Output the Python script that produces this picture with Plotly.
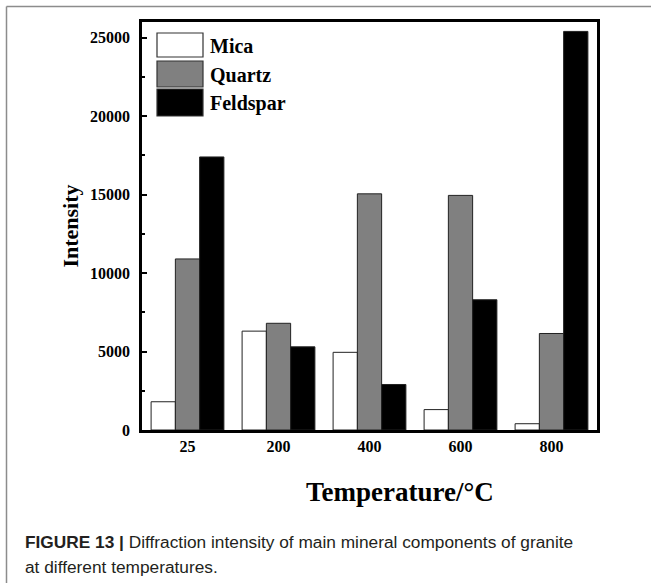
import plotly.graph_objects as go

# Diffraction intensity of granite minerals at different temperatures
temperatures = ["25", "200", "400", "600", "800"]
mica = [1800, 6300, 4950, 1300, 400]
quartz = [10900, 6800, 15050, 14950, 6150]
feldspar = [17400, 5300, 2900, 8300, 25400]

series_names = ["Mica", "Quartz", "Feldspar"]
series_values = [mica, quartz, feldspar]
series_colors = ["#ffffff", "#808080", "#000000"]

SERIF = "Liberation Serif, Times New Roman, serif"
SANS = "Liberation Sans, Arial, sans-serif"

fig = go.Figure()
for name, vals, col in zip(series_names, series_values, series_colors):
    fig.add_trace(go.Bar(
        x=temperatures, y=vals, name=name,
        marker=dict(color=col, line=dict(color="#222222", width=1)),
        showlegend=False,
    ))

# Plot-area geometry in pixels (used to place the legend, caption and frame)
W, H = 651, 583
L, R, T, B = 142, 597, 22, 430
pw, ph = R - L, B - T


def px_x(x):
    return (x - L) / pw


def px_y(y):
    return (B - y) / ph


shapes = []
annotations = []

# Legend: large swatches with bold serif labels
legend_rows = [(33, 57), (61, 87), (89, 116)]
for (y0, y1), name, col in zip(legend_rows, series_names, series_colors):
    shapes.append(dict(type="rect", xref="paper", yref="paper",
                       x0=px_x(157), x1=px_x(203), y0=px_y(y1), y1=px_y(y0),
                       fillcolor=col, line=dict(color="#333333", width=1.2)))
    annotations.append(dict(xref="paper", yref="paper", x=px_x(208),
                            y=px_y((y0 + y1) / 2 + 1), text=name, showarrow=False,
                            xanchor="left", yanchor="middle",
                            font=dict(family=SERIF, size=20, color="black", weight=700)))

# X-axis title
annotations.append(dict(xref="paper", yref="paper", x=px_x(400), y=px_y(492),
                        xanchor="center", yanchor="middle", showarrow=False,
                        text="Temperature/°C",
                        font=dict(family=SERIF, size=27, color="black", weight=700)))

# Outer card frame (top and left edges)
frame_col = "#8c8c8c"
shapes.append(dict(type="line", xref="paper", yref="paper",
                   x0=px_x(6.5), x1=px_x(W + 2), y0=px_y(6.5), y1=px_y(6.5),
                   line=dict(color=frame_col, width=1.5)))
shapes.append(dict(type="line", xref="paper", yref="paper",
                   x0=px_x(6.5), x1=px_x(6.5), y0=px_y(6.5), y1=px_y(H + 2),
                   line=dict(color=frame_col, width=1.5)))

# Figure caption
annotations.append(dict(xref="paper", yref="paper", x=px_x(23), y=px_y(542),
                        xanchor="left", yanchor="middle", showarrow=False, align="left",
                        text="<b>FIGURE 13 |</b> Diffraction intensity of main mineral components of granite",
                        font=dict(family=SANS, size=17.3, color="#231f20")))
annotations.append(dict(xref="paper", yref="paper", x=px_x(23), y=px_y(567),
                        xanchor="left", yanchor="middle", showarrow=False, align="left",
                        text="at different temperatures.",
                        font=dict(family=SANS, size=17.3, color="#231f20")))

fig.update_layout(
    width=W, height=H,
    margin=dict(l=L, r=W - R, t=T, b=H - B),
    paper_bgcolor="white", plot_bgcolor="white",
    barmode="group", bargap=0.2, bargroupgap=0,
    shapes=shapes, annotations=annotations,
    showlegend=False,
)

fig.update_xaxes(
    type="category",
    showline=True, linecolor="black", linewidth=2.5, mirror=True,
    ticks="", showgrid=False,
    tickfont=dict(family=SERIF, size=16, color="black", weight=700),
)
fig.update_yaxes(
    range=[0, 26000], dtick=5000, tick0=0, tickformat="d",
    showline=True, linecolor="black", linewidth=2.5, mirror=True,
    ticks="inside", ticklen=5, tickwidth=1.5, tickcolor="black",
    minor=dict(dtick=2500, ticks="inside", ticklen=3, tickwidth=1.5, tickcolor="black"),
    showgrid=False, zeroline=False,
    ticklabelstandoff=6,
    tickfont=dict(family=SERIF, size=16, color="black", weight=700),
    title=dict(text="Intensity", standoff=6,
               font=dict(family=SERIF, size=22, color="black", weight=700)),
)

fig.write_html("out.html")
